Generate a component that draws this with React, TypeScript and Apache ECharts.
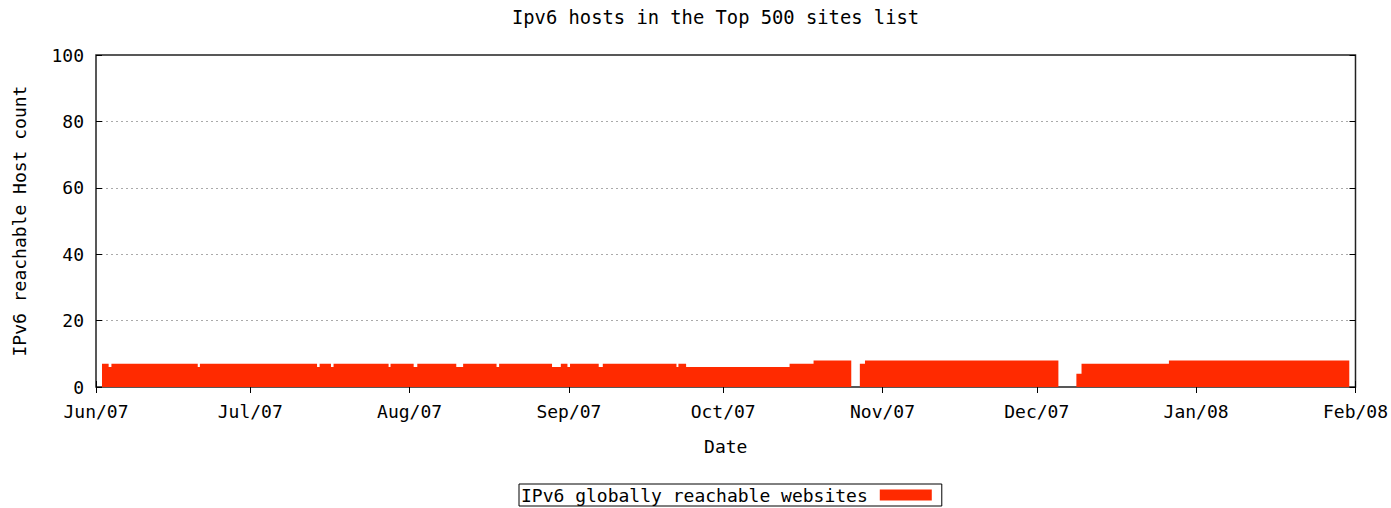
import React, { useEffect, useRef } from "react";
import * as echarts from "echarts";

// Step data: each entry holds its value until the next change date
const changeDates = [
  "2007-06-02 04:00", "2007-06-03 11:00", "2007-06-04 00:00", "2007-06-20 19:00",
  "2007-06-21 05:00", "2007-07-14 00:00", "2007-07-14 12:00", "2007-07-16 17:00",
  "2007-07-17 05:00", "2007-07-27 22:00", "2007-07-28 07:00", "2007-08-01 19:00",
  "2007-08-02 12:00", "2007-08-10 02:00", "2007-08-11 10:00", "2007-08-17 22:00",
  "2007-08-18 10:00", "2007-08-28 17:00", "2007-08-30 10:00", "2007-08-31 17:00",
  "2007-09-01 05:00", "2007-09-06 19:00", "2007-09-07 14:00", "2007-09-21 22:00",
  "2007-09-22 07:00", "2007-09-23 19:00", "2007-10-13 22:00", "2007-10-18 14:00",
  "2007-10-25 22:00", "2007-10-27 14:00", "2007-10-28 14:00", "2007-12-05 05:00",
  "2007-12-08 17:00", "2007-12-09 17:00", "2007-12-26 17:00", "2008-01-30 19:00",
];
const hostCounts = [
  7, 6, 7, 6,
  7, 6, 7, 6,
  7, 6, 7, 6,
  7, 6, 7, 6,
  7, 6, 7, 6,
  7, 6, 7, 6,
  7, 6, 7, 8,
  0, 7, 8, 0,
  4, 7, 8, 0,
];

const monthTicks = [
  "2007-06-01", "2007-07-01", "2007-08-01", "2007-09-01", "2007-10-01",
  "2007-11-01", "2007-12-01", "2008-01-01", "2008-02-01",
];
const monthTickLabels = [
  "Jun/07", "Jul/07", "Aug/07", "Sep/07", "Oct/07", "Nov/07", "Dec/07", "Jan/08", "Feb/08",
];

const FONT = "DejaVu Sans Mono";
const RED = "#ff2a00";

const toMs = (s: string) => {
  const [d, t] = s.split(" ");
  const [y, m, day] = d.split("-").map(Number);
  const [hh, mm] = (t || "00:00").split(":").map(Number);
  return Date.UTC(y, m - 1, day, hh, mm);
};

export default function App() {
  const ref = useRef<HTMLDivElement>(null);
  useEffect(() => {
    if (!ref.current) return;
    const chart = echarts.init(ref.current, null, { renderer: "svg" });
    const tickMs = monthTicks.map(toMs);
    const labelFor = (v: number) => {
      let best = 0;
      let bd = Infinity;
      tickMs.forEach((t, i) => {
        const d = Math.abs(t - v);
        if (d < bd) { bd = d; best = i; }
      });
      return monthTickLabels[best];
    };
    const data = changeDates.map((d, i) => [toMs(d), hostCounts[i]]);
    const baseX = {
      type: "value" as const,
      min: tickMs[0],
      max: tickMs[tickMs.length - 1],
      axisLine: { show: false },
      splitLine: { show: false },
      axisTick: { show: true, inside: true, length: 6, lineStyle: { color: "#000" }, customValues: tickMs },
    };
    const baseY = {
      type: "value" as const,
      min: 0,
      max: 100,
      interval: 20,
      axisLine: { show: false },
      axisTick: { show: true, inside: true, length: 6, lineStyle: { color: "#000" } },
    };
    chart.setOption({
      animation: false,
      backgroundColor: "#fff",
      title: {
        text: "Ipv6 hosts in the Top 500 sites list",
        left: 512,
        top: 8,
        padding: 0,
        textStyle: { fontFamily: FONT, fontSize: 18.8, fontWeight: "normal", color: "#000" },
      },
      legend: {
        left: 519,
        top: 484,
        padding: [2, 10, 2, 2],
        borderColor: "#000",
        borderWidth: 1,
        align: "right",
        icon: "rect",
        itemWidth: 52,
        itemHeight: 11,
        itemStyle: { color: RED, opacity: 1, borderWidth: 0 },
        textStyle: { fontFamily: FONT, fontSize: 18, color: "#000", padding: [0, 7, 0, 0] },
        data: ["IPv6 globally reachable websites"],
      },
      grid: {
        left: 96,
        right: 34,
        top: 55,
        bottom: 121,
        show: true,
        borderColor: "#222",
        borderWidth: 1.5,
        backgroundColor: "transparent",
      },
      xAxis: [
        {
          ...baseX,
          position: "bottom",
          name: "Date",
          nameLocation: "middle",
          nameGap: 50,
          nameTextStyle: { fontFamily: FONT, fontSize: 18, color: "#000" },
          axisLabel: {
            show: true,
            margin: 15,
            fontFamily: FONT,
            fontSize: 18,
            color: "#000",
            customValues: tickMs,
            formatter: (v: number) => labelFor(v),
            hideOverlap: false,
          },
        },
        {
          ...baseX,
          position: "top",
          axisLabel: { show: false },
        },
      ],
      yAxis: [
        {
          ...baseY,
          position: "left",
          name: "IPv6 reachable Host count",
          nameLocation: "middle",
          nameRotate: 90,
          nameGap: 68,
          nameTextStyle: { fontFamily: FONT, fontSize: 18, color: "#000" },
          axisLabel: { margin: 12, fontFamily: FONT, fontSize: 18, color: "#000" },
          splitLine: {
            show: true,
            showMinLine: false,
            showMaxLine: false,
            lineStyle: { color: "#aaa", type: [2, 3], width: 1 },
          },
        },
        {
          ...baseY,
          position: "right",
          axisLabel: { show: false },
          splitLine: { show: false },
        },
      ],
      series: [
        {
          name: "IPv6 globally reachable websites",
          type: "line",
          step: "end",
          xAxisIndex: 0,
          yAxisIndex: 0,
          data,
          showSymbol: false,
          symbol: "none",
          color: RED,
          lineStyle: { width: 0, opacity: 0 },
          areaStyle: { color: RED, opacity: 1 },
          z: 1,
        },
      ],
    });
    return () => chart.dispose();
  }, []);
  return (
    <div
      ref={ref}
      style={{ position: "fixed", left: 0, top: 0, width: 1391, height: 508 }}
    />
  );
}
